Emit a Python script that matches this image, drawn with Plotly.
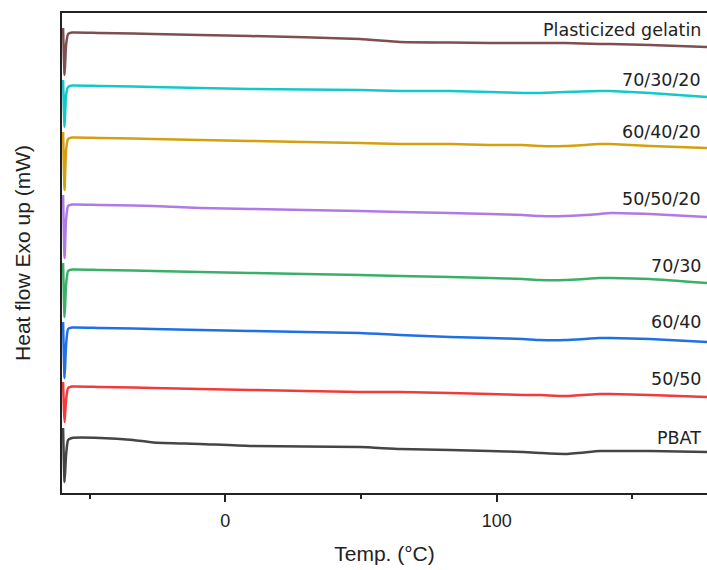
import plotly.graph_objects as go

# Temperature (°C)
temp = [-59.8, -59.25, -58.7, -57.96, -56.5, -46.1, -34.0, -26.6, -9.3, 9.1, 49.6,
        64.4, 82.8, 97.5, 109.7, 116.0, 125.2, 138.0, 141.8, 156.5, 177.5]

# Heat flow (arbitrary offset units, exo up)
plasticized_gelatin = [465, 418, 448, 459, 460.5, 460, 459.5, 459, 458, 457, 454, 451, 450.5, 450, 450, 450, 450, 449, 449, 448, 446]
b70_30_20 = [413, 366, 398, 406, 407.5, 407, 406.5, 406, 405, 404, 403, 402, 402, 401, 400, 400, 401, 402, 402, 400, 396]
b60_40_20 = [361, 303, 343, 354, 355.5, 355, 354.5, 354, 353, 352, 350, 349, 349, 348, 348, 347, 347, 349, 349, 347, 345]
b50_50_20 = [298, 235, 273, 287, 288.5, 288, 287.5, 287, 285, 284, 282, 281, 280, 279, 278, 277, 277, 279, 280, 279, 276]
b70_30 = [230, 176, 208, 222, 223.5, 223, 222.5, 222, 221, 220, 218, 217, 216, 215, 214, 213, 213, 215, 215, 214, 210]
b60_40 = [171, 115, 148, 164, 165.5, 165, 164.5, 164, 163, 162, 160, 158, 156, 155, 154, 153, 153, 155, 155, 154, 151]
b50_50 = [111, 71, 93, 105, 106.5, 106, 105.5, 105, 104, 103, 101, 101, 100, 99, 98, 98, 97, 99, 99, 98, 96]
pbat = [65, 11, 38, 53, 55, 55, 53, 50.5, 49, 47, 46, 44, 43, 42, 41, 40, 39, 42, 42, 42, 41]

names = ["Plasticized gelatin", "70/30/20", "60/40/20", "50/50/20", "70/30", "60/40", "50/50", "PBAT"]
series = [plasticized_gelatin, b70_30_20, b60_40_20, b50_50_20, b70_30, b60_40, b50_50, pbat]
colors = ["#7d4f50", "#14c8c8", "#d4a010", "#b07ae6", "#3aaf68", "#1f6fe6", "#f23a3a", "#454545"]
label_y = [463, 413, 361, 294, 227, 171, 114, 55]

fig = go.Figure()
for n, s, c in zip(names, series, colors):
    fig.add_trace(go.Scatter(x=temp, y=s, mode="lines", name=n,
                             line=dict(color=c, width=2.5, shape="spline", smoothing=0.5)))

for n, ly in zip(names, label_y):
    fig.add_annotation(x=0.994, xref="paper", y=ly, yref="y", text=n, showarrow=False,
                       xanchor="right", yanchor="middle",
                       font=dict(family="DejaVu Sans", size=17.5, color="#222"))

fig.update_layout(
    width=707, height=570,
    margin=dict(l=62, r=0, t=13, b=77),
    paper_bgcolor="white", plot_bgcolor="white",
    showlegend=False,
)
fig.update_xaxes(range=[-60.2, 177.5], tickvals=[0, 100], ticks="outside", ticklen=7, tickwidth=1.5,
                 tickcolor="#222", showline=True, linecolor="#222", linewidth=1.5, mirror=True,
                 showgrid=False, zeroline=False, ticklabelstandoff=4,
                 minor=dict(tickvals=[-50, 50, 150], ticks="outside", ticklen=4, tickwidth=1.5, tickcolor="#222"),
                 tickfont=dict(family="Liberation Sans", size=18, color="#222"),
                 title=dict(text="Temp. (°C)", font=dict(family="Liberation Sans", size=21, color="#222"), standoff=16))
fig.update_yaxes(range=[0, 480], showticklabels=False, ticks="", showline=True, linecolor="#222",
                 linewidth=1.5, showgrid=False, zeroline=False,
                 title=dict(text="Heat flow Exo up (mW)", font=dict(family="Liberation Sans", size=21, color="#222"), standoff=24))

fig.write_html("out.html", config={"displayModeBar": False},
               post_script="document.body.style.margin='0';document.body.style.overflow='hidden';")
